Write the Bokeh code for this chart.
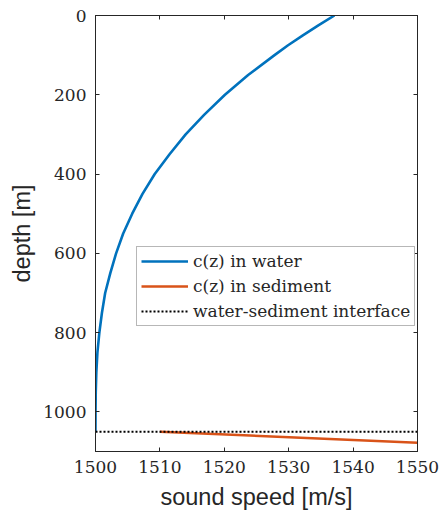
from bokeh.plotting import figure
from bokeh.models import Range1d, LinearAxis, FixedTicker, Legend, LegendItem
from bokeh.embed import file_html
from bokeh.resources import INLINE

# ---- data ----
depth_water = [0, 25, 50, 75, 100, 150, 200, 250, 300, 350, 400, 450, 500,
               550, 600, 650, 700, 750, 800, 850, 900, 950, 1000, 1050]
c_water = [1537.1, 1534.6, 1532.2, 1529.9, 1527.8, 1523.7, 1520.1, 1516.9,
           1514.0, 1511.5, 1509.2, 1507.3, 1505.7, 1504.3, 1503.2, 1502.3,
           1501.5, 1501.0, 1500.6, 1500.3, 1500.13, 1500.04, 1500.01, 1500.0]
depth_sed = [1050, 1078]
c_sed = [1510, 1550]
interface_depth = [1050, 1050]
interface_c = [1500, 1550]
x_ticks = [1500, 1510, 1520, 1530, 1540, 1550]
y_ticks = [0, 200, 400, 600, 800, 1000]

AX = "#262626"
SERIF = "DejaVu Serif"
SANS = "Liberation Sans"

p = figure(width=440, height=521, output_backend="svg", toolbar_location=None,
           x_range=Range1d(1500, 1550), y_range=Range1d(1100, 0),
           min_border_left=95, min_border_right=23, min_border_top=15,
           min_border_bottom=70)
p.background_fill_color = "white"
p.border_fill_color = "white"
p.outline_line_color = AX
p.outline_line_width = 1
p.xgrid.visible = False
p.ygrid.visible = False

r_water = p.line(c_water, depth_water, line_color="#0072BD", line_width=2.6)
r_sed = p.line(c_sed, depth_sed, line_color="#D95319", line_width=2.6)
r_int = p.line(interface_c, interface_depth, line_color="black", line_width=2,
               line_dash="2 2")

def style(ax, ticks, show_labels):
    ax.ticker = FixedTicker(ticks=ticks)
    ax.major_tick_in = 4
    ax.major_tick_out = 0
    ax.minor_tick_in = 0
    ax.minor_tick_out = 0
    ax.axis_line_color = AX
    ax.major_tick_line_color = AX
    if show_labels:
        ax.major_label_text_color = AX
        ax.major_label_text_font = SERIF
        ax.major_label_text_font_size = "17px"
        ax.major_label_standoff = 9
    else:
        ax.major_label_text_color = None
        ax.major_label_text_font_size = "1px"
        ax.major_label_standoff = 0

xa = p.xaxis[0]
ya = p.yaxis[0]
style(xa, x_ticks, True)
style(ya, y_ticks, True)
xa.axis_label = "sound speed [m/s]"
ya.axis_label = "depth [m]"
for ax in (xa, ya):
    ax.axis_label_text_font = SANS
    ax.axis_label_text_font_size = "23.5px"
    ax.axis_label_text_font_style = "normal"
    ax.axis_label_text_color = AX
xa.axis_label_standoff = 8
ya.axis_label_standoff = 5

top = LinearAxis()
style(top, x_ticks, False)
p.add_layout(top, "above")
right = LinearAxis()
style(right, y_ticks, False)
p.add_layout(right, "right")

legend = Legend(items=[
    LegendItem(label="c(z) in water", renderers=[r_water]),
    LegendItem(label="c(z) in sediment", renderers=[r_sed]),
    LegendItem(label="water-sediment interface", renderers=[r_int]),
], location=(41, 125))
legend.label_text_font = SERIF
legend.label_text_font_size = "17px"
legend.label_text_color = AX
legend.glyph_width = 47
legend.glyph_height = 20
legend.label_height = 20
legend.label_standoff = 5
legend.spacing = 5
legend.padding = 4
legend.margin = 0
legend.border_line_color = "#707070"
legend.border_line_width = 1.5
legend.background_fill_color = "white"
p.add_layout(legend, "center")

open("out.html", "w").write(file_html(p, INLINE))
